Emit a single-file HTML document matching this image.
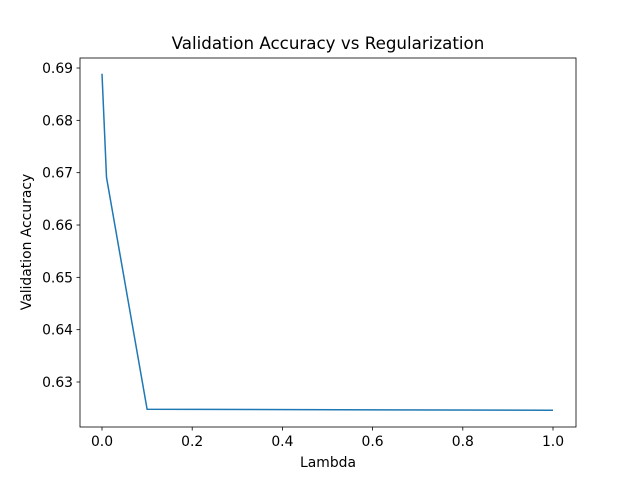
<!DOCTYPE html>
<html><head><meta charset="utf-8"><style>
body{margin:0;background:#fff;}
svg text{font-family:"DejaVu Sans","Liberation Sans",sans-serif;fill:#000;}
</style></head><body>
<svg id="chart" width="640" height="480" xmlns="http://www.w3.org/2000/svg">
<rect width="640" height="480" fill="#fff"/>
<text x="328" y="49" font-size="16.7" text-anchor="middle">Validation Accuracy vs Regularization</text>
<g id="xt"></g>
<g id="yt"></g>
<path id="line" fill="none" stroke="#1f77b4" stroke-width="1.5"/>
<rect x="80" y="58" width="496" height="369" fill="none" stroke="#000" stroke-width="0.8"/>
<text x="328" y="467" font-size="13.9" text-anchor="middle">Lambda</text>
<text transform="translate(31,242) rotate(-90)" font-size="13.9" text-anchor="middle">Validation Accuracy</text>
</svg>
<script>
const lambdas=[0,0.01,0.1,1.0];
const accuracy=[0.6889,0.6691,0.6248,0.6246];
const xTicks=[0,0.2,0.4,0.6,0.8,1.0];
const xTickLabels=["0.0","0.2","0.4","0.6","0.8","1.0"];
const yTicks=[0.63,0.64,0.65,0.66,0.67,0.68,0.69];
const yTickLabels=["0.63","0.64","0.65","0.66","0.67","0.68","0.69"];
const NS="http://www.w3.org/2000/svg";
const sx=v=>102+v*451;
const sy=v=>382-(v-0.63)/0.01*52.33;
const xt=document.getElementById('xt'),yt=document.getElementById('yt');
xTicks.forEach((t,i)=>{
 const l=document.createElementNS(NS,'line');
 l.setAttribute('x1',sx(t));l.setAttribute('x2',sx(t));l.setAttribute('y1',427);l.setAttribute('y2',430.5);l.setAttribute('stroke','#000');l.setAttribute('stroke-width','0.8');
 
 
 xt.appendChild(l);
 const tx=document.createElementNS(NS,'text');
 tx.setAttribute('x',sx(t));tx.setAttribute('y',446);tx.setAttribute('font-size','13.9');tx.setAttribute('text-anchor','middle');
 tx.textContent=xTickLabels[i];
 
 
 xt.appendChild(tx);
});
yTicks.forEach((t,i)=>{
 const l=document.createElementNS(NS,'line');
 l.setAttribute('x1',76.5);l.setAttribute('x2',80);l.setAttribute('y1',sy(t));l.setAttribute('y2',sy(t));l.setAttribute('stroke','#000');l.setAttribute('stroke-width','0.8');
 
 
 yt.appendChild(l);
 const tx=document.createElementNS(NS,'text');
 tx.setAttribute('x',73);tx.setAttribute('y',sy(t)+5);tx.setAttribute('font-size','13.9');tx.setAttribute('text-anchor','end');
 tx.textContent=yTickLabels[i];
 
 
 yt.appendChild(tx);
});
document.getElementById('line').setAttribute('d',lambdas.map((v,i)=>(i?'L':'M')+sx(v)+' '+sy(accuracy[i])).join(' '));
</script>
</body></html>
